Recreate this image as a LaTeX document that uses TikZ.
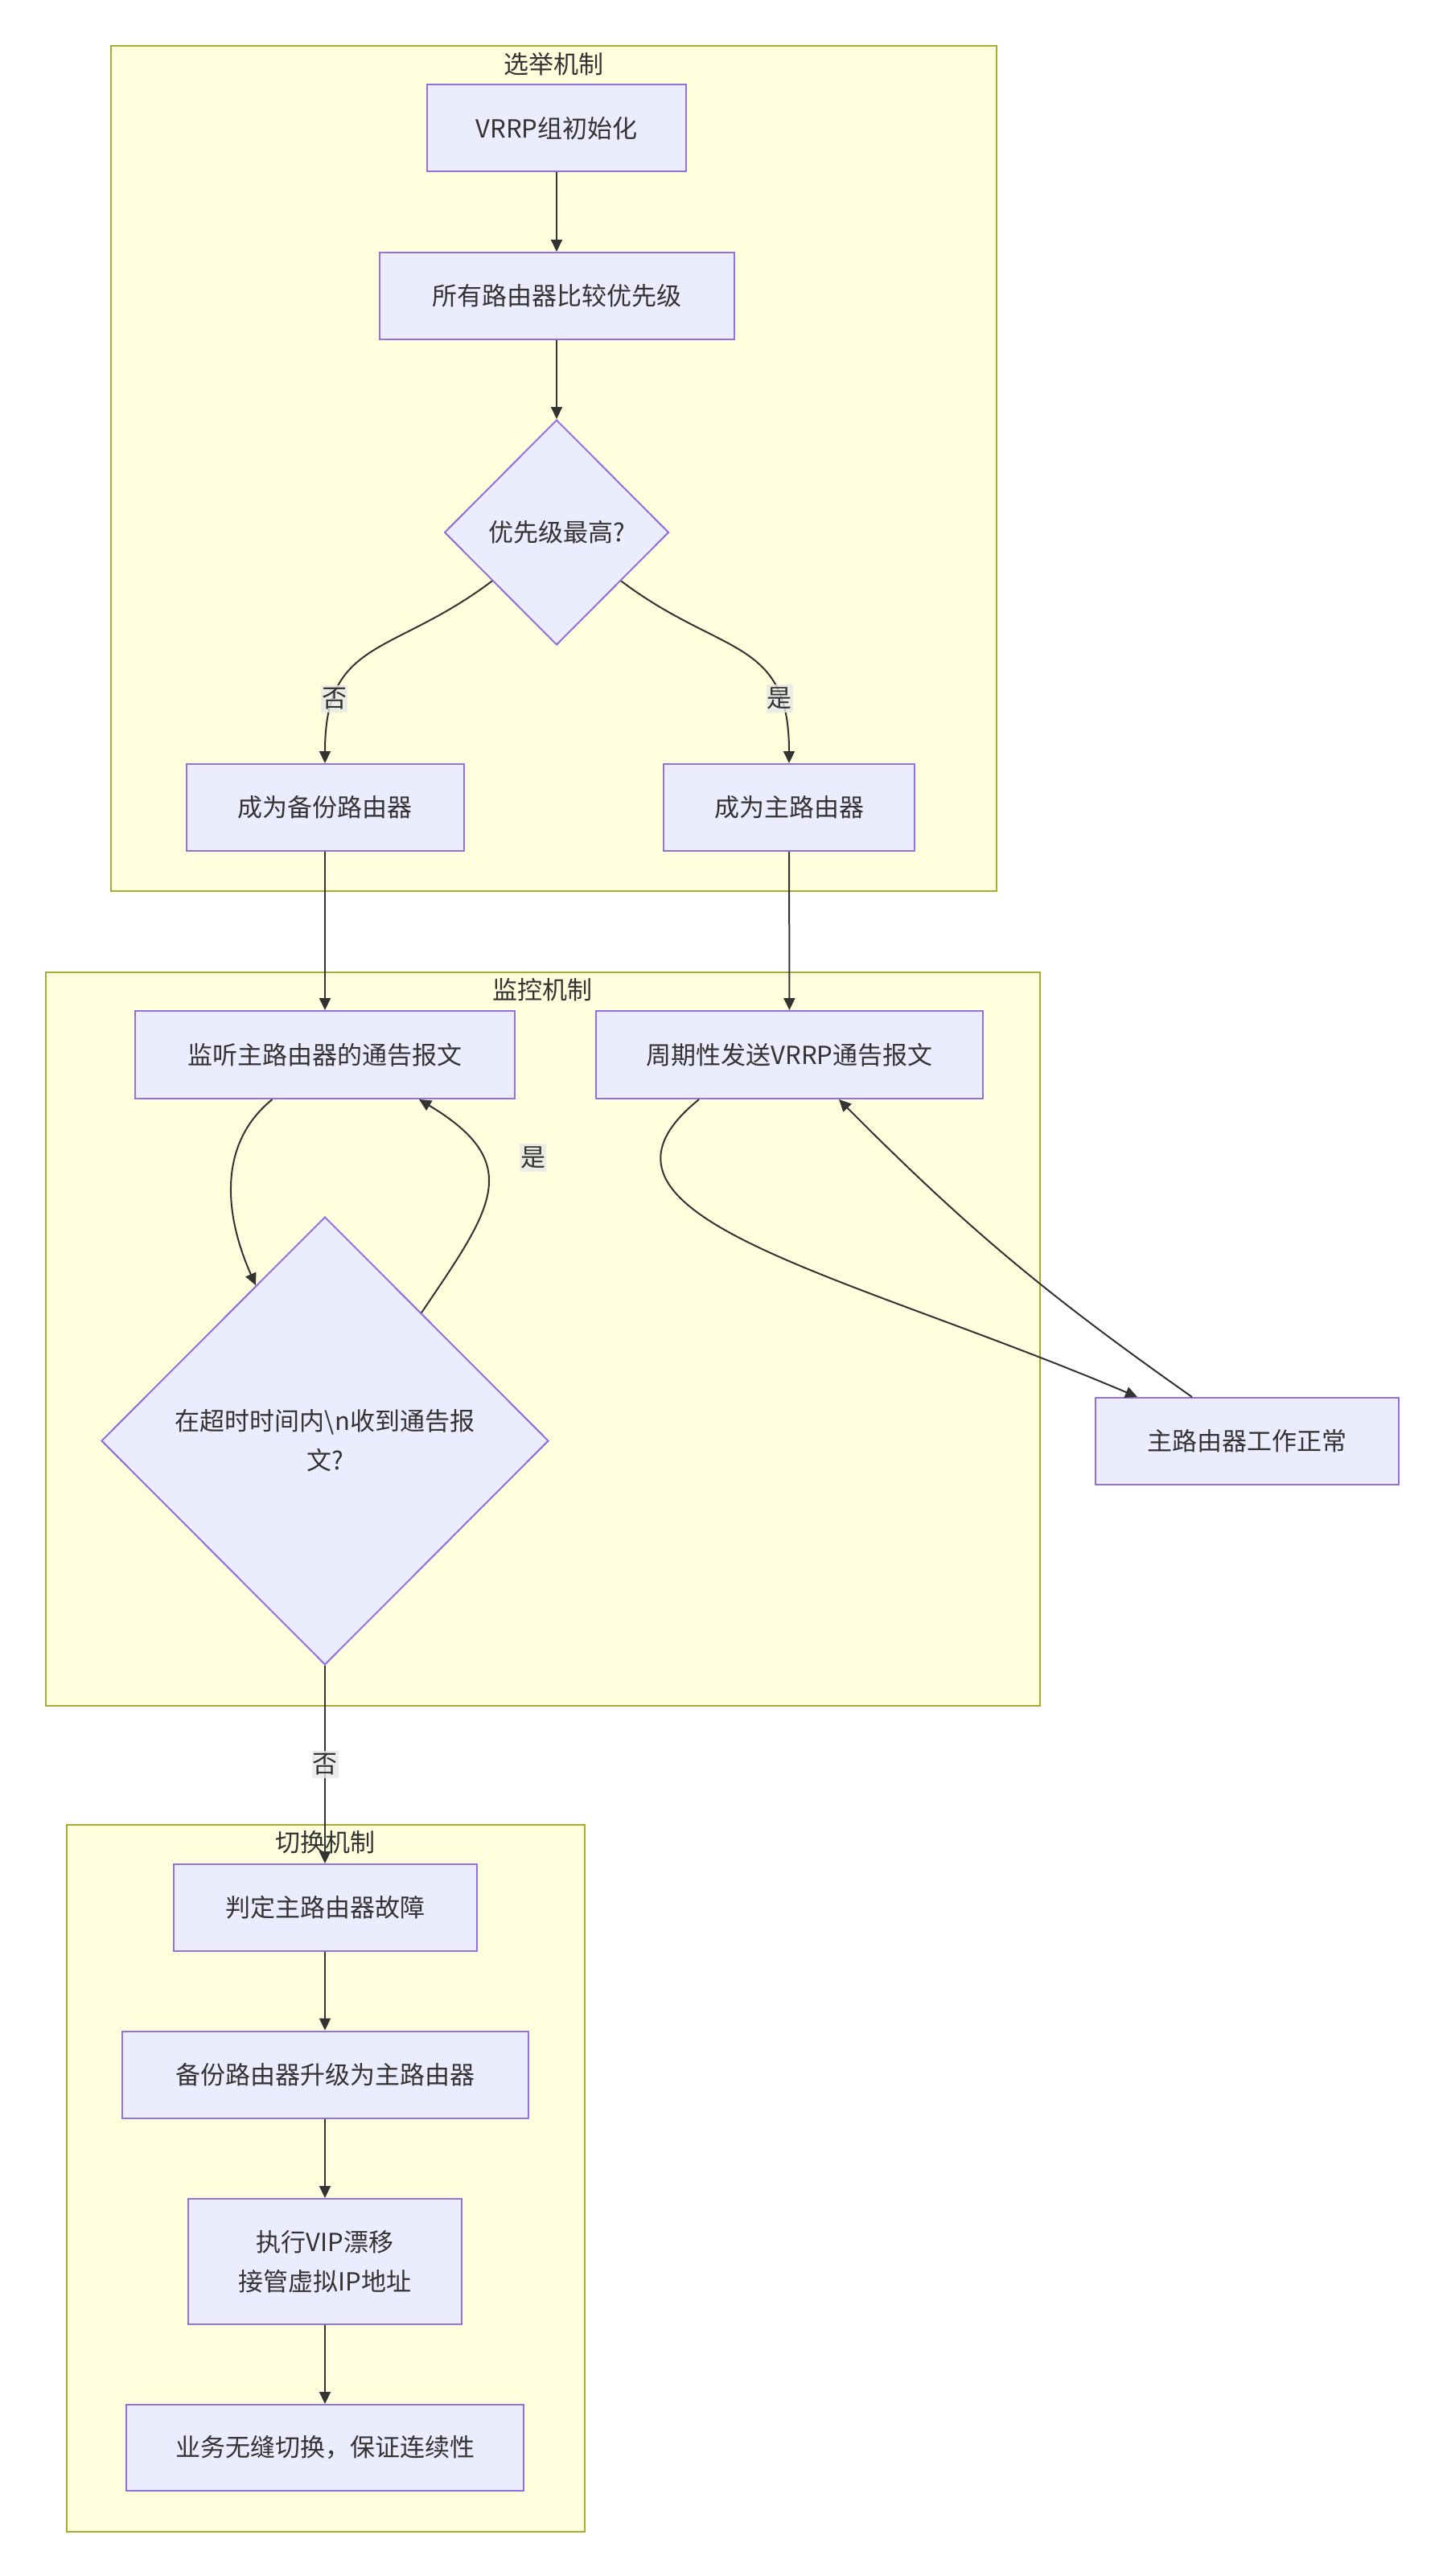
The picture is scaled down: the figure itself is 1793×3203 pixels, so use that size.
\documentclass[tikz,border=0pt]{standalone}
\usepackage{fontspec}
\setmainfont{Noto Sans CJK SC}
\usetikzlibrary{shapes.geometric,arrows.meta}
\definecolor{grpfill}{HTML}{FFFFDE}
\definecolor{grpline}{HTML}{AAAA33}
\definecolor{nodefill}{HTML}{ECECFF}
\definecolor{nodeline}{HTML}{9370DB}
\definecolor{edgecol}{HTML}{333333}
\definecolor{txt}{HTML}{333333}
\definecolor{lblfill}{HTML}{E8E8E8}
\begin{document}
\begin{tikzpicture}[x=1pt, y=1pt, font=\fontsize{31}{49}\selectfont,
  box/.style={draw=nodeline, fill=nodefill, line width=2pt, text=txt, minimum height=108pt, inner sep=0pt, align=center},
  decision/.style={diamond, draw=nodeline, fill=nodefill, line width=2pt, text=txt, inner sep=0pt, align=center},
  group/.style={draw=grpline, fill=grpfill, line width=2pt, anchor=north west, inner sep=0pt},
  grptitle/.style={text=txt, inner sep=0pt},
  lbl/.style={fill=lblfill, fill opacity=0.8, text opacity=1, text=txt, inner xsep=1pt, inner ysep=4pt},
  flow/.style={draw=edgecol, line width=2pt, -{Triangle[length=15pt,width=14pt]}}]
\path[fill=white, use as bounding box] (0,0) rectangle (1793,-3203);

\node[group, minimum width=1101pt, minimum height=1051pt] (elect) at (137,-56) {};
\node[grptitle] (electT) at (688,-80) {选举机制};
\node[group, minimum width=1236pt, minimum height=912pt] (watch) at (56,-1208) {};
\node[grptitle] (watchT) at (674,-1231) {监控机制};
\node[group, minimum width=644pt, minimum height=879pt] (swap) at (82,-2268) {};
\node[grptitle] (swapT) at (404,-2291) {切换机制};

\node[box, minimum width=322pt] (init) at (692,-159.5) {VRRP组初始化};
\node[box, minimum width=441pt] (cmp) at (692,-368) {所有路由器比较优先级};
\node[decision, minimum width=279pt, minimum height=280pt] (d1) at (692,-662) {优先级最高?};
\node[box, minimum width=345pt] (backup) at (404,-1004) {成为备份路由器};
\node[box, minimum width=312pt] (master) at (981,-1004) {成为主路由器};

\node[box, minimum width=472pt, minimum height=109pt] (listen) at (404,-1311.5) {监听主路由器的通告报文};
\node[box, minimum width=481pt, minimum height=109pt] (periodic) at (981.5,-1311.5) {周期性发送VRRP通告报文};
\node[decision, minimum width=556pt, minimum height=557pt] (d2) at (404,-1791.5) {在超时时间内\textbackslash n收到通告报\\文?};
\node[box, minimum width=377pt] (normal) at (1550.5,-1792) {主路由器工作正常};

\node[box, minimum width=377pt] (judge) at (404,-2372) {判定主路由器故障};
\node[box, minimum width=505pt] (promote) at (404,-2579.5) {备份路由器升级为主路由器};
\node[box, minimum width=340pt, minimum height=156pt] (vip) at (404,-2812) {执行VIP漂移\\接管虚拟IP地址};
\node[box, minimum width=494pt, minimum height=107pt] (seamless) at (404,-3043.5) {业务无缝切换，保证连续性};

\path[flow] (init) -- (cmp);
\path[flow] (cmp) -- (d1);
\path[flow] (d1.217) to[out=-143, in=90, looseness=1.3] node[lbl, pos=0.78] {否} (backup.north);
\path[flow] (d1.323) to[out=-37, in=90, looseness=1.3] node[lbl, pos=0.78] {是} (master.north);
\path[flow] (backup) -- (listen);
\path[flow] (master) -- (periodic);
\path[flow] ([xshift=-65.5pt]listen.south) to[out=-141, in=114] (d2.114);
\path[flow] (d2.53) to[out=56, in=-31, looseness=1.5] node[lbl, pos=0.6, xshift=58pt, yshift=18pt] {是} ([xshift=117pt]listen.south);
\path[flow] ([xshift=-112.5pt]periodic.south) to[out=-141, in=157, out distance=230pt, in distance=400pt] ([xshift=-136.5pt]normal.north);
\path[flow] ([xshift=-68.5pt]normal.north) to[bend left=5] ([xshift=61.5pt]periodic.south);
\path[flow] (d2.south) -- node[lbl, pos=0.5] {否} (judge.north);
\path[flow] (judge) -- (promote);
\path[flow] (promote) -- (vip);
\path[flow] (vip) -- (seamless);
\end{tikzpicture}
\end{document}
